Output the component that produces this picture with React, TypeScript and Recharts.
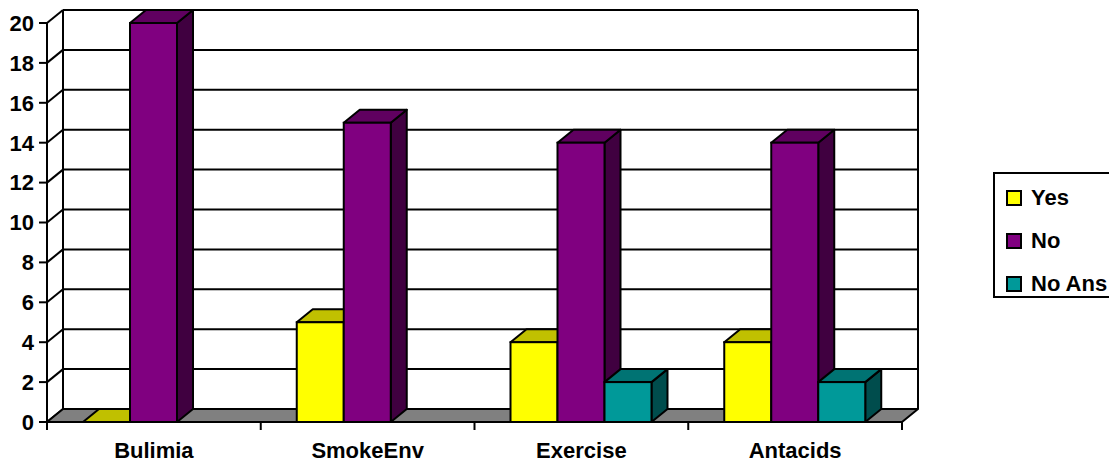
import React from 'react';
import { BarChart, Bar, XAxis, YAxis, CartesianGrid, ReferenceArea } from 'recharts';

const categories = ['Bulimia', 'SmokeEnv', 'Exercise', 'Antacids'];
const yesValues = [0, 5, 4, 4];
const noValues = [20, 15, 14, 14];
const noAnsValues: (number | null)[] = [null, null, 2, 2];
const yTicks = [0, 2, 4, 6, 8, 10, 12, 14, 16, 18, 20];

const seriesList = [
  { key: 'yes', name: 'Yes', fill: '#FFFF00', top: '#C0C000', side: '#808000' },
  { key: 'no', name: 'No', fill: '#800080', top: '#600060', side: '#400040' },
  { key: 'noAns', name: 'No Ans', fill: '#009999', top: '#007373', side: '#004D4D' },
];

const data = categories.map((name, i) => ({
  name,
  yes: yesValues[i],
  no: noValues[i],
  noAns: noAnsValues[i],
}));

const DX = 16;
const DY = 13;
const SW = 2;
const FONT = 'Arial, "Liberation Sans", sans-serif';

const make3DBar = (key: string, fill: string, top: string, side: string) => (props: any) => {
  const { x, y, width, height, payload } = props;
  if (payload == null || payload[key] == null) return <g />;
  const h = Math.max(0, height || 0);
  const topPts = `${x},${y} ${x + DX},${y - DY} ${x + width + DX},${y - DY} ${x + width},${y}`;
  const sidePts = `${x + width},${y} ${x + width + DX},${y - DY} ${x + width + DX},${y + h - DY} ${x + width},${y + h}`;
  return (
    <g>
      {h > 0 && <polygon points={sidePts} fill={side} stroke="#000" strokeWidth={SW} strokeLinejoin="round" />}
      <polygon points={topPts} fill={top} stroke="#000" strokeWidth={SW} strokeLinejoin="round" />
      {h > 0 && <rect x={x} y={y} width={width} height={h} fill={fill} stroke="#000" strokeWidth={SW} />}
    </g>
  );
};

const gridLine = (props: any) => {
  const { x1, y1, x2, y2, index } = props;
  return (
    <g key={`g-${index}`}>
      <line x1={x1 + DX} y1={y1 - DY} x2={x2 + DX} y2={y2 - DY} stroke="#000" strokeWidth={SW} />
      <line x1={x1} y1={y1} x2={x1 + DX} y2={y1 - DY} stroke="#000" strokeWidth={SW} />
    </g>
  );
};

const walls = (props: any) => {
  const { x, y, width, height } = props;
  const bottom = y + height;
  const n = categories.length;
  const floor = `${x},${bottom} ${x + width},${bottom} ${x + width + DX},${bottom - DY} ${x + DX},${bottom - DY}`;
  return (
    <g>
      <line x1={x + DX} y1={y - DY} x2={x + DX} y2={bottom - DY} stroke="#000" strokeWidth={SW} />
      <line x1={x + width + DX} y1={y - DY} x2={x + width + DX} y2={bottom - DY} stroke="#000" strokeWidth={SW} />
      <polygon points={floor} fill="#808080" stroke="#000" strokeWidth={SW} strokeLinejoin="round" />
      {Array.from({ length: n + 1 }, (_, i) => (
        <line key={i} x1={x + (i * width) / n} y1={bottom} x2={x + (i * width) / n} y2={bottom + 8} stroke="#000" strokeWidth={SW} />
      ))}
    </g>
  );
};

export default function App() {
  return (
    <div style={{ position: 'absolute', left: 0, top: 0, width: 1109, height: 463, background: '#fff' }}>
      <BarChart
        width={1109}
        height={463}
        data={data}
        margin={{ top: 23, right: 207, left: 0, bottom: 0 }}
        barGap={0}
        barSize={47}
      >
        <CartesianGrid vertical={false} horizontal={gridLine} />
        <ReferenceArea y1={0} y2={20} shape={walls} ifOverflow="visible" />
        <XAxis
          dataKey="name"
          axisLine={false}
          tickLine={false}
          tickSize={0}
          tickMargin={20}
          height={41}
          interval={0}
          tick={{ fill: '#000', fontSize: 22, fontWeight: 'bold', fontFamily: FONT }}
        />
        <YAxis
          domain={[0, 20]}
          ticks={yTicks}
          width={47}
          interval={0}
          axisLine={{ stroke: '#000', strokeWidth: SW }}
          tickLine={{ stroke: '#000', strokeWidth: SW }}
          tickSize={8}
          tickMargin={5}
          tick={{ fill: '#000', fontSize: 22, fontWeight: 'bold', fontFamily: FONT }}
        />
        {seriesList.map((s) => (
          <Bar
            key={s.key}
            dataKey={s.key}
            name={s.name}
            fill={s.fill}
            isAnimationActive={false}
            shape={make3DBar(s.key, s.fill, s.top, s.side)}
          />
        ))}
      </BarChart>
      <div
        style={{
          position: 'absolute',
          left: 993,
          top: 172,
          width: 140,
          height: 126,
          border: '2px solid #000',
          boxSizing: 'border-box',
          fontFamily: FONT,
          fontWeight: 'bold',
          fontSize: 22,
        }}
      >
        {seriesList.map((s, i) => (
          <div
            key={s.key}
            style={{ position: 'absolute', left: 11, top: 11 + i * 43, height: 26, display: 'flex', alignItems: 'center', whiteSpace: 'nowrap' }}
          >
            <span style={{ display: 'inline-block', width: 12, height: 12, background: s.fill, border: '2px solid #000', marginRight: 9 }} />
            <span>{s.name}</span>
          </div>
        ))}
      </div>
    </div>
  );
}
